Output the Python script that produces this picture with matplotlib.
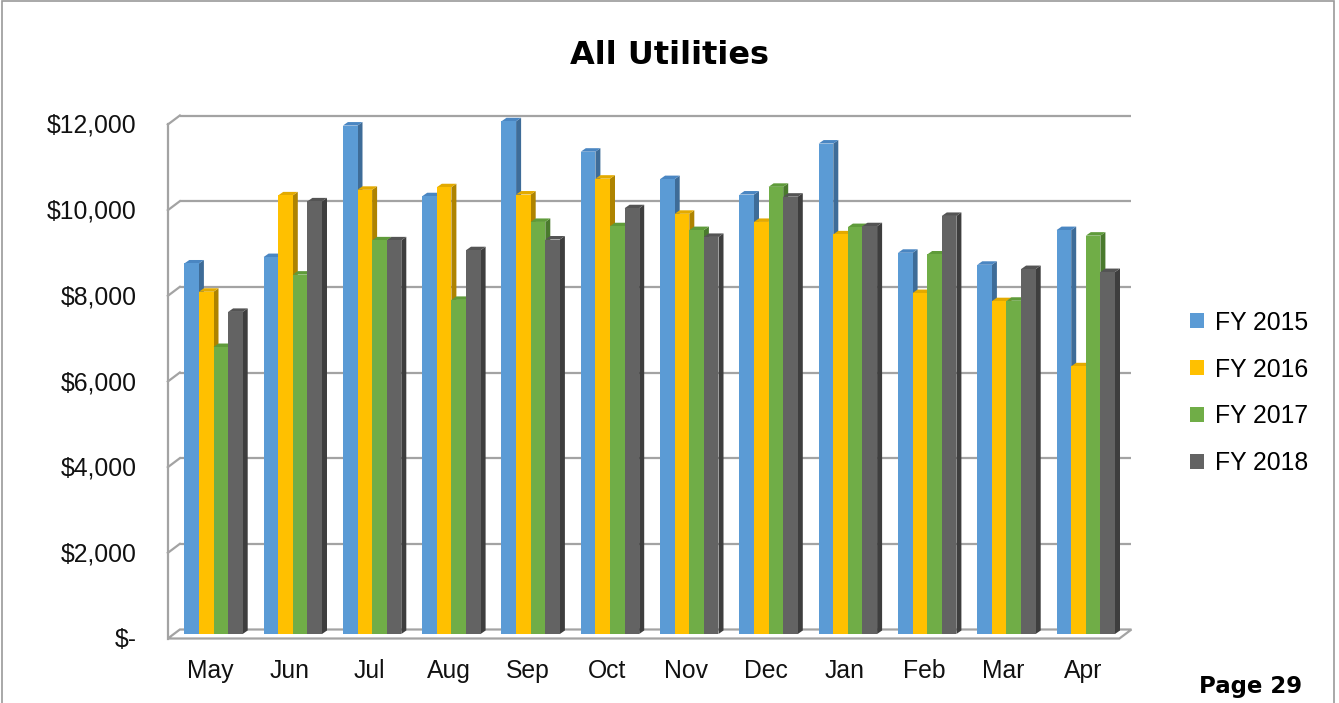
import matplotlib
matplotlib.use("Agg")
import matplotlib.pyplot as plt
from matplotlib.patches import Polygon, Rectangle, Patch
from matplotlib.lines import Line2D

# ---------------- data ----------------
months = ["May", "Jun", "Jul", "Aug", "Sep", "Oct", "Nov", "Dec", "Jan", "Feb", "Mar", "Apr"]
series_names = ["FY 2015", "FY 2016", "FY 2017", "FY 2018"]
fy2015 = [8650, 8800, 11870, 10220, 11970, 11260, 10620, 10260, 11450, 8900, 8620, 9430]
fy2016 = [7990, 10240, 10370, 10430, 10260, 10630, 9810, 9620, 9330, 7960, 7770, 6250]
fy2017 = [6700, 8390, 9190, 7800, 9620, 9520, 9430, 10440, 9500, 8860, 7780, 9300]
fy2018 = [7520, 10100, 9190, 8960, 9210, 9940, 9270, 10210, 9520, 9760, 8520, 8450]
y_ticks = [0, 2000, 4000, 6000, 8000, 10000, 12000]
title = "All Utilities"
page_label = "Page 29"

series = [fy2015, fy2016, fy2017, fy2018]
front_colors = ["#5B9BD5", "#FFC000", "#70AD47", "#636363"]
top_colors = ["#4A86C2", "#E3AA00", "#5F9B3A", "#545454"]
side_colors = ["#3E6C98", "#AE8300", "#4A7A2D", "#3E3E3E"]

# ---------------- figure geometry (pixels) ----------------
W, H = 1339, 703
fig = plt.figure(figsize=(W / 100, H / 100), dpi=100)
fig.patch.set_facecolor("white")

px_cat = 79.3                 # pixels per category
ax_left_px = 173.85
ax_w_px = 12 * px_cat
y0_px, y12_px = 634.0, 120.0  # bar-plane value 0 and 12000
px_val = (y0_px - y12_px) / 12000.0

ax = fig.add_axes([ax_left_px / W, 1 - y0_px / H, ax_w_px / W, (y0_px - y12_px) / H])
ax.set_xlim(-0.5, 11.5)
ax.set_ylim(0, 12000)
ax.axis("off")

# conversions of pixel depth offsets into data units
def dxp(p):
    return p / px_cat

def dyp(p):
    return p / px_val

DX, DY = dxp(6.0), dyp(4.5)   # bar plane -> back wall offset
grid_col = "#A3A3A3"
glw = 1.6
xl, xr = -0.5, 11.5

# back wall gridlines + left wall diagonals
for v in y_ticks:
    if v == 0:
        continue
    ax.add_line(Line2D([xl + DX, xr + DX], [v + DY, v + DY], color=grid_col, lw=glw,
                       zorder=1, clip_on=False, solid_capstyle="butt"))
    ax.add_line(Line2D([xl - DX, xl + DX], [v - DY, v + DY], color=grid_col, lw=glw,
                       zorder=1, clip_on=False))

# left wall front edge
ax.add_line(Line2D([xl - DX, xl - DX], [0 - DY, 12000 - DY], color=grid_col, lw=glw,
                   zorder=1, clip_on=False))

# floor
floor = Polygon([[xl - DX, -DY], [xr - DX, -DY], [xr + DX, DY], [xl + DX, DY]],
                closed=True, facecolor="white", edgecolor=grid_col, lw=glw,
                zorder=1, clip_on=False)
ax.add_patch(floor)

# ---------------- 3D-ish bars ----------------
bw = 14.6 / px_cat
bdx, bdy = dxp(5.0), dyp(3.5)
z = 3
for i in range(len(months)):
    for j, vals in enumerate(series):
        v = vals[i]
        x0 = i + (j - 2) * bw
        x1 = x0 + bw
        ax.add_patch(Polygon([[x1, 0], [x1 + bdx, bdy], [x1 + bdx, v + bdy], [x1, v]],
                             closed=True, facecolor=side_colors[j], edgecolor="none",
                             zorder=z, clip_on=False))
        ax.add_patch(Polygon([[x0, v], [x1, v], [x1 + bdx, v + bdy], [x0 + bdx, v + bdy]],
                             closed=True, facecolor=top_colors[j], edgecolor="none",
                             zorder=z, clip_on=False))
        ax.add_patch(Rectangle((x0, 0), bw, v, facecolor=front_colors[j],
                               edgecolor="none", zorder=z, clip_on=False))
        z += 1

# ---------------- text ----------------
tick_font = "Liberation Sans"
tick_size = 17.8

def money(v):
    return "$-" if v == 0 else "${:,.0f}".format(v)

for v in y_ticks:
    ax.text(xl - DX - dxp(31), v - DY - dyp(1.5), money(v), ha="right", va="center",
            fontsize=tick_size, family=tick_font, color="#111111", clip_on=False)

for i, m in enumerate(months):
    ax.text(i - dxp(3), -dyp(37), m, ha="center", va="center", fontsize=tick_size,
            family=tick_font, color="#111111", clip_on=False)

fig.text(669 / W, 1 - 55 / H, title, ha="center", va="center", fontsize=23,
         family="DejaVu Sans", fontweight="bold", color="black")
fig.text(1251 / W, 1 - 686 / H, page_label, ha="center", va="center", fontsize=16.5,
         family="DejaVu Sans", fontweight="bold", color="black")

handles = [Patch(facecolor=c, edgecolor="none") for c in front_colors]
fig.legend(handles, series_names, loc="center left",
           bbox_to_anchor=(1190 / W, 1 - 393 / H), frameon=False,
           prop={"family": tick_font, "size": tick_size},
           handlelength=0.55, handleheight=0.55, handletextpad=0.45,
           labelspacing=0.93, borderaxespad=0, borderpad=0)

# outer chart border
fig.add_artist(Rectangle((2 / W, -0.01), 1332 / W, 1.0 - 1 / H + 0.01,
                         transform=fig.transFigure, facecolor="none",
                         edgecolor="#9A9A9A", lw=1.2))

fig.savefig("out.png", dpi=100)
